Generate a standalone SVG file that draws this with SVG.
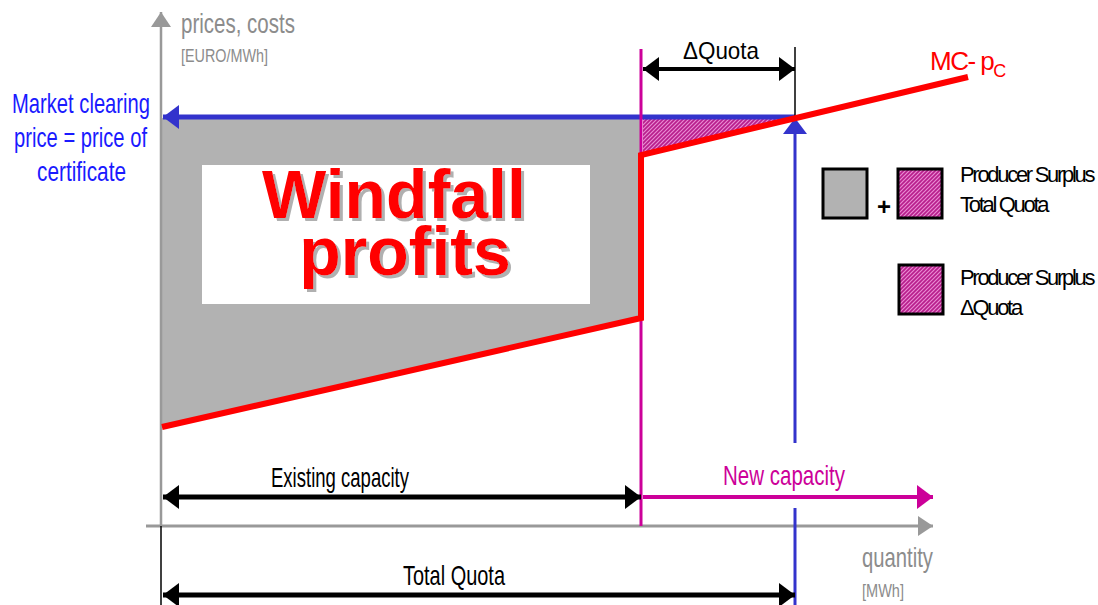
<svg xmlns="http://www.w3.org/2000/svg" width="1098" height="605" viewBox="0 0 1098 605">
<style>
text{font-family:"Liberation Sans",Arial,sans-serif}
.ax{fill:#8c8c8c;font-size:28px}
.axs{fill:#8c8c8c;font-size:18px}
.lbl{fill:#000;font-size:28px}
.leg{fill:#000;font-size:22px;letter-spacing:-2.3px}
.blu{fill:#1a1aff;font-size:28px}
.wf{font-weight:bold;font-size:68px;text-anchor:middle;fill:#ff0000;filter:url(#shadow)}
</style>
<defs>
<filter id="shadow" x="-5%" y="-10%" width="115%" height="130%">
<feOffset in="SourceAlpha" dx="3" dy="3" result="o"/>
<feFlood flood-color="#b0b0b0"/>
<feComposite in2="o" operator="in" result="s"/>
<feMerge><feMergeNode in="s"/><feMergeNode in="SourceGraphic"/></feMerge>
</filter>
<pattern id="hatch" width="4" height="4" patternUnits="userSpaceOnUse">
<rect width="4" height="4" fill="#b81e8c"/>
<path d="M-1,1 L1,-1 M0,4 L4,0 M3,5 L5,3" stroke="#e98ad2" stroke-width="1.2"/>
</pattern>
<marker id="ah-k" markerUnits="userSpaceOnUse" markerWidth="18" markerHeight="26" refX="16" refY="12" orient="auto-start-reverse"><path d="M0,0 L16,12 L0,24 Z" fill="#000"/></marker>
<marker id="ah-m" markerUnits="userSpaceOnUse" markerWidth="18" markerHeight="26" refX="16" refY="12" orient="auto"><path d="M0,0 L16,12 L0,24 Z" fill="#cc0099"/></marker>
<marker id="ah-g" markerUnits="userSpaceOnUse" markerWidth="18" markerHeight="22" refX="15" refY="10" orient="auto"><path d="M0,0 L15,10 L0,20 Z" fill="#999"/></marker>
<marker id="ah-b" markerUnits="userSpaceOnUse" markerWidth="18" markerHeight="26" refX="16" refY="12" orient="auto"><path d="M0,0 L16,12 L0,24 Z" fill="#3333cc"/></marker>
</defs>
<rect width="1098" height="605" fill="#fff"/>

<g id="areas">
<polygon points="161,118 641,118 641,320 161,428" fill="#b2b2b2"/>
<polygon points="643,119 795,119 643,154" fill="url(#hatch)"/>
</g>

<g id="windfall">
<rect x="202" y="165" width="388" height="139" fill="#fff"/>
<text class="wf" x="394" y="218">Windfall</text>
<text class="wf" x="405" y="275">profits</text>
</g>

<g id="connectors" fill="none">
<line x1="161" y1="526" x2="161" y2="12" stroke="#999" stroke-width="2.5" marker-end="url(#ah-g)"/>
<line x1="146" y1="526" x2="933" y2="526" stroke="#999" stroke-width="3" marker-end="url(#ah-g)"/>
<line x1="161" y1="526" x2="161" y2="605" stroke="#000" stroke-width="1.5"/>
<line x1="795" y1="117" x2="163" y2="117" stroke="#3333cc" stroke-width="5" marker-end="url(#ah-b)"/>
<line x1="795" y1="443" x2="795" y2="118" stroke="#3333cc" stroke-width="3" marker-end="url(#ah-b)"/>
<line x1="795" y1="508" x2="795" y2="605" stroke="#3333cc" stroke-width="3"/>
<line x1="795" y1="47" x2="795" y2="117" stroke="#000" stroke-width="1.5"/>
<line x1="641" y1="49" x2="641" y2="526" stroke="#cc0099" stroke-width="3"/>
<polyline points="162,427 641,318 641,155 968,77" stroke="#ff0000" stroke-width="6"/>
<line x1="643" y1="69" x2="795" y2="69" stroke="#000" stroke-width="4" marker-start="url(#ah-k)" marker-end="url(#ah-k)"/>
<line x1="163" y1="497" x2="641" y2="497" stroke="#000" stroke-width="5" marker-start="url(#ah-k)" marker-end="url(#ah-k)"/>
<line x1="643" y1="497" x2="933" y2="497" stroke="#cc0099" stroke-width="4" marker-end="url(#ah-m)"/>
<line x1="163" y1="595" x2="795" y2="595" stroke="#000" stroke-width="5" marker-start="url(#ah-k)" marker-end="url(#ah-k)"/>
</g>

<g id="axis-labels">
<text class="ax" x="181" y="33" textLength="114" lengthAdjust="spacingAndGlyphs">prices, costs</text>
<text class="axs" x="181" y="62" textLength="87" lengthAdjust="spacingAndGlyphs">[EURO/MWh]</text>
<text class="ax" x="862" y="567" textLength="71" lengthAdjust="spacingAndGlyphs">quantity</text>
<text class="axs" x="862" y="597" textLength="42" lengthAdjust="spacingAndGlyphs">[MWh]</text>
</g>

<g id="price-label">
<text class="blu" x="12" y="113" textLength="138" lengthAdjust="spacingAndGlyphs">Market clearing</text>
<text class="blu" x="14" y="147" textLength="133" lengthAdjust="spacingAndGlyphs">price = price of</text>
<text class="blu" x="37" y="181" textLength="89" lengthAdjust="spacingAndGlyphs">certificate</text>
</g>

<g id="mc-label">
<text x="930" y="70" fill="#ff0000" font-size="26" letter-spacing="-1.5">MC- p<tspan font-size="18" dy="7">C</tspan></text>
</g>

<g id="dimension-labels">
<text class="lbl" x="683" y="59" textLength="76" lengthAdjust="spacingAndGlyphs" style="font-size:24px">ΔQuota</text>
<text class="lbl" x="271" y="487" textLength="138" lengthAdjust="spacingAndGlyphs">Existing capacity</text>
<text class="lbl" x="723" y="485" style="fill:#cc0099" textLength="122" lengthAdjust="spacingAndGlyphs">New capacity</text>
<text class="lbl" x="403" y="585" textLength="102" lengthAdjust="spacingAndGlyphs">Total Quota</text>
</g>

<g id="legend-total">
<rect x="823" y="169" width="44" height="49" fill="#b2b2b2" stroke="#000" stroke-width="3"/>
<text x="884" y="215" font-size="24" font-weight="bold" text-anchor="middle">+</text>
<rect x="898" y="169" width="44" height="49" fill="url(#hatch)" stroke="#000" stroke-width="3"/>
<text class="leg" x="960" y="182">Producer Surplus</text>
<text class="leg" x="960" y="212">Total Quota</text>
</g>

<g id="legend-delta">
<rect x="899" y="265" width="44" height="49" fill="url(#hatch)" stroke="#000" stroke-width="3"/>
<text class="leg" x="960" y="285">Producer Surplus</text>
<text class="leg" x="960" y="315">ΔQuota</text>
</g>
</svg>
